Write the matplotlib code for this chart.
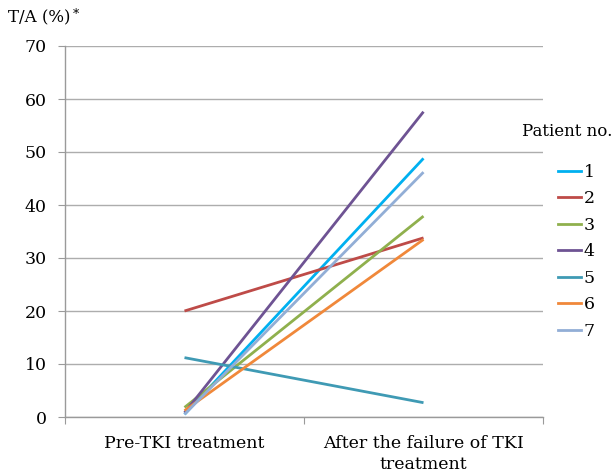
import matplotlib
matplotlib.use("Agg")
import matplotlib.pyplot as plt
from matplotlib.lines import Line2D

categories = ["Pre-TKI treatment", "After the failure of TKI\ntreatment"]
patients = ["1", "2", "3", "4", "5", "6", "7"]
pre_values = [0.5, 20.0, 1.8, 0.8, 11.2, 1.2, 0.5]
post_values = [48.8, 33.8, 37.9, 57.6, 2.7, 33.5, 46.2]
colors = ["#00B0F0", "#BE4B48", "#8FB04D", "#6E5393", "#3F9AB4", "#F0883A", "#92AED6"]

plt.rcParams['font.family'] = ['DejaVu Serif']
FS = 12

fig = plt.figure(figsize=(6.16, 4.73), dpi=100)
ax = fig.add_axes([65/616, 1-417/473, (543-65)/616, (417-46)/473])

x = [0, 1]
for p, a, b, c in zip(patients, pre_values, post_values, colors):
    ax.plot(x, [a, b], color=c, lw=2.0, solid_capstyle='butt')

ax.set_xlim(-0.5, 1.5)
ax.set_ylim(0, 70)
ax.set_yticks(range(0, 71, 10))
ax.yaxis.grid(True, color="#ADADAD", lw=1)
ax.set_axisbelow(True)
for s in ["top", "right"]:
    ax.spines[s].set_visible(False)
for s in ["left", "bottom"]:
    ax.spines[s].set_color("#9A9A9A")
    ax.spines[s].set_linewidth(1)

ax.set_xticks([-0.5, 0.5, 1.5])
ax.set_xticklabels(["", "", ""])
ax.set_xticks([0, 1], minor=True)
ax.set_xticklabels(categories, minor=True, fontsize=FS + 0.5, linespacing=1.3)
ax.tick_params(axis='x', which='minor', length=0, pad=13)
ax.tick_params(axis='x', which='major', length=5, color="#9A9A9A", direction='out')
ax.tick_params(axis='y', length=5, color="#9A9A9A", direction='out', labelsize=FS + 0.5, pad=8)

fig.text(8/616, 1-18/473, "T/A (%)", fontsize=FS, va='center', ha='left')
fig.text(73/616, 1-14/473, "*", fontsize=9, va='center', ha='left')

fig.text(522/616, 1-131/473, "Patient no.", fontsize=FS, va='center', ha='left')

handles = [Line2D([0], [0], color=c, lw=2.0) for c in colors]
leg = fig.legend(handles, patients, loc='upper left',
                 bbox_to_anchor=(549/616, 1-155/473), frameon=False,
                 fontsize=FS + 0.5, handlelength=1.35,
                 handletextpad=0.15, labelspacing=0.55, borderpad=0)

fig.savefig("out.png", dpi=100)
